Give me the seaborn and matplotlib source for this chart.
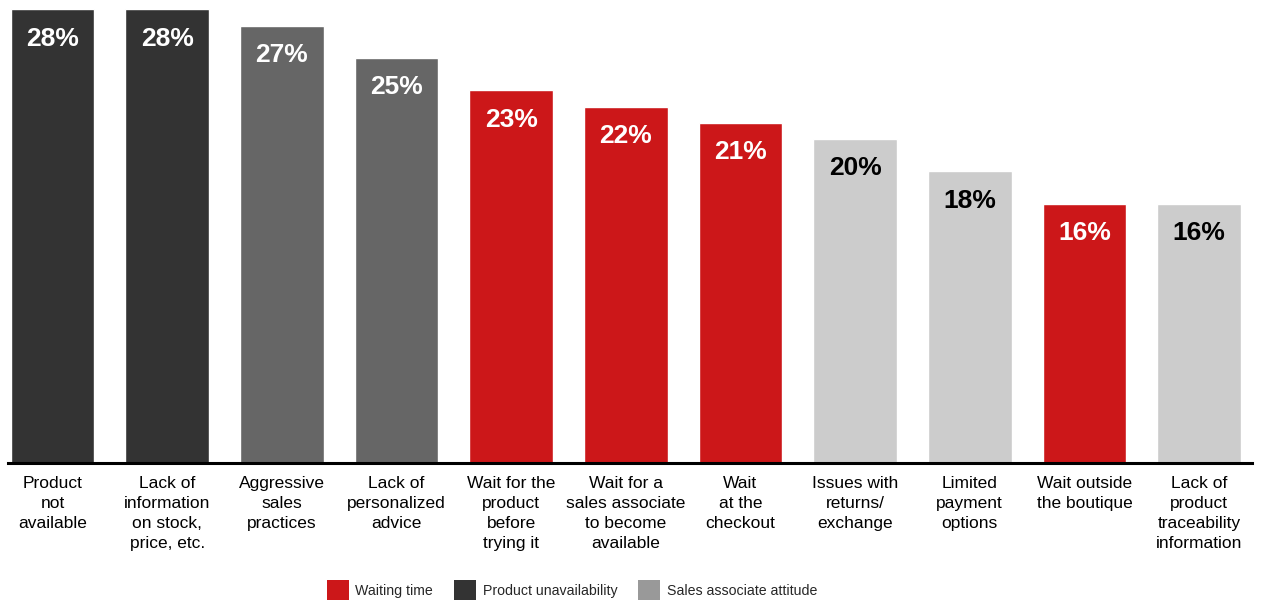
import matplotlib
matplotlib.use("Agg")
import matplotlib.pyplot as plt
import seaborn as sns
import pandas as pd
from matplotlib.patches import Patch

categories = [
    "Product\nnot\navailable",
    "Lack of\ninformation\non stock,\nprice, etc.",
    "Aggressive\nsales\npractices",
    "Lack of\npersonalized\nadvice",
    "Wait for the\nproduct\nbefore\ntrying it",
    "Wait for a\nsales associate\nto become\navailable",
    "Wait\nat the\ncheckout",
    "Issues with\nreturns/\nexchange",
    "Limited\npayment\noptions",
    "Wait outside\nthe boutique",
    "Lack of\nproduct\ntraceability\ninformation",
]
values = [28, 28, 27, 25, 23, 22, 21, 20, 18, 16, 16]
bar_colors = ["#333333", "#333333", "#666666", "#666666", "#CC1719", "#CC1719",
              "#CC1719", "#CCCCCC", "#CCCCCC", "#CC1719", "#CCCCCC"]
label_colors = ["white", "white", "white", "white", "white", "white",
                "white", "black", "black", "white", "black"]
legend_labels = ["Waiting time", "Product unavailability", "Sales associate attitude"]
legend_colors = ["#CC1719", "#333333", "#999999"]

sns.set_style("white")
plt.rcParams["font.family"] = ["Liberation Sans", "DejaVu Sans"]

df = pd.DataFrame({"category": categories, "value": values})

fig = plt.figure(figsize=(12.68, 6.03), dpi=100)
ax = fig.add_axes([8 / 1268, 140 / 603, (1252 - 8) / 1268, 463 / 603])

sns.barplot(data=df, x="category", y="value", hue="category", palette=bar_colors,
            width=0.73, saturation=1, legend=False, ax=ax)

ax.set_xlim(-0.388, 10.462)
ax.set_ylim(0, 28.58)
ax.set_xlabel("")
ax.set_ylabel("")
ax.set_yticks([])
ax.set_xticks(range(len(categories)), labels=categories, linespacing=1.42,
              fontsize=12.5, color="black")
for side in ["top", "right", "left"]:
    ax.spines[side].set_visible(False)
ax.spines["bottom"].set_linewidth(2.2)
ax.spines["bottom"].set_color("black")
ax.tick_params(axis="x", length=0, pad=9.5)

for container, v, col in zip(ax.containers, values, label_colors):
    for bar in container:
        ax.annotate(f"{v}%", xy=(bar.get_x() + bar.get_width() / 2, v),
                    xytext=(0, -21), textcoords="offset points",
                    ha="center", va="center", fontsize=19, fontweight="bold",
                    color=col)

handles = [Patch(facecolor=c, edgecolor="none") for c in legend_colors]
fig.legend(handles, legend_labels, loc="center", bbox_to_anchor=(572 / 1268, 13 / 603),
           ncol=3, frameon=False, fontsize=10.2, handlelength=1.55, handleheight=1.75,
           handletextpad=0.45, columnspacing=1.5, borderaxespad=0)

fig.savefig("out.png", dpi=100)
